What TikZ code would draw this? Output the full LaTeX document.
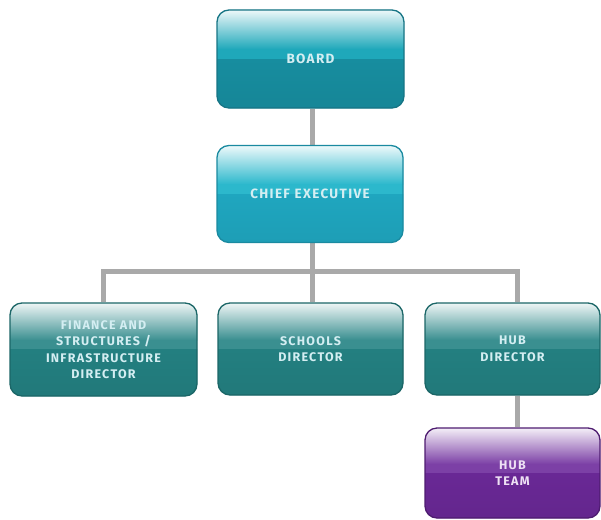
\documentclass[tikz,border=0pt]{standalone}
\usepackage{fontspec}
\newfontfamily\boxfont[LetterSpace=10]{Fira Sans}
\usetikzlibrary{backgrounds,calc}
\definecolor{bdmain}{HTML}{178D9F}
\definecolor{bdband}{HTML}{1FA8BA}
\definecolor{bdedge}{HTML}{177585}
\definecolor{cemain}{HTML}{1FA6BF}
\definecolor{ceband}{HTML}{2CB8CC}
\definecolor{ceedge}{HTML}{1A8AA0}
\definecolor{drmain}{HTML}{237F80}
\definecolor{drband}{HTML}{3A8F90}
\definecolor{dredge}{HTML}{1B6667}
\definecolor{tmmain}{HTML}{692895}
\definecolor{tmband}{HTML}{7C40A6}
\definecolor{tmedge}{HTML}{4E1C70}
\definecolor{txtteal}{HTML}{D4EEF2}
\definecolor{txtpurp}{HTML}{EEE0F4}
\definecolor{wire}{HTML}{A9A9A9}
\tikzset{
  glossbox/.style n args={4}{draw=#3, line width=1.3pt, fill=#1, rounded corners=12pt,
    align=center, inner sep=0pt,
    font=\boxfont\bfseries\fontsize{12.5}{16.5}\selectfont, text=#4,
    path picture={
      \coordinate (pnw) at (path picture bounding box.north west);
      \coordinate (pse) at (path picture bounding box.south east);
      \coordinate (pne) at (path picture bounding box.north east);
      \coordinate (psw) at (path picture bounding box.south west);
      \shade[sharp corners, top color=white!94!#2, middle color=white!62!#2, bottom color=#2]
        ([yshift=1pt]pnw) rectangle ($(pne)!0.40!(pse)$);
      \fill[sharp corners, #2] ($(pnw)!0.40!(psw)$) rectangle ($(pne)!0.5!(pse)$);
      \shade[sharp corners, top color=#1, bottom color=black!5!#1]
        ($(pnw)!0.5!(psw)$) rectangle ([yshift=-1pt]pse);
    }},
  bigtext/.style={font=\boxfont\bfseries\fontsize{13.5}{16.5}\selectfont},
  connector/.style={draw=wire, line width=5pt}
}
\begin{document}
\begin{tikzpicture}[x=1pt,y=-1pt]
\useasboundingbox (0,0) rectangle (601,519);
\node[glossbox={bdmain}{bdband}{bdedge}{txtteal}, bigtext, minimum width=187pt, minimum height=98pt] (board) at (310.5,59) {BOARD};
\node[glossbox={cemain}{ceband}{ceedge}{txtteal}, bigtext, minimum width=186pt, minimum height=97pt] (ce) at (310,194) {CHIEF EXECUTIVE};
\node[glossbox={drmain}{drband}{dredge}{txtteal}, minimum width=187pt, minimum height=93pt] (fin) at (103.5,349.5) {FINANCE AND\\STRUCTURES /\\INFRASTRUCTURE\\DIRECTOR};
\node[glossbox={drmain}{drband}{dredge}{txtteal}, minimum width=185pt, minimum height=92pt] (sch) at (310.5,349) {SCHOOLS\\DIRECTOR};
\node[glossbox={drmain}{drband}{dredge}{txtteal}, minimum width=175pt, minimum height=92pt] (hub) at (512.5,349) {HUB\\DIRECTOR};
\node[glossbox={tmmain}{tmband}{tmedge}{txtpurp}, minimum width=175pt, minimum height=90pt] (team) at (512.5,473) {HUB\\TEAM};
\coordinate (bus) at (0,271);
\begin{scope}[on background layer]
\draw[connector] ([xshift=1.5pt]board.south) -- ([xshift=2pt]ce.north);
\draw[connector] ([xshift=2pt]ce.south) -- ([xshift=2pt]ce.south |- bus);
\draw[connector] ([xshift=-0.5pt]fin.north) -- ([xshift=-0.5pt]fin.north |- bus) -- ([xshift=4.5pt]hub.north |- bus) -- ([xshift=4.5pt]hub.north);
\draw[connector] ([xshift=1.5pt]sch.north |- bus) -- ([xshift=1.5pt]sch.north);
\draw[connector] ([xshift=4.5pt]hub.south) -- ([xshift=4.5pt]team.north);
\end{scope}
\end{tikzpicture}
\end{document}
